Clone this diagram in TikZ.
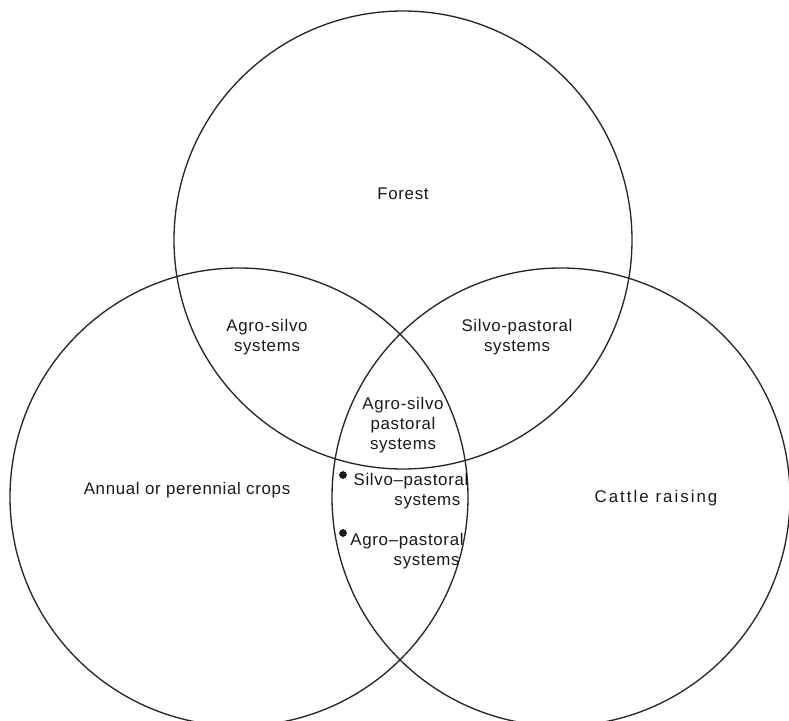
\documentclass[tikz,border=0pt]{standalone}
\usepackage{fontspec}
\setmainfont{Liberation Sans}[LetterSpace=4]
\begin{document}
\begin{tikzpicture}[x=0.025cm, y=-0.025cm,
        ring/.style={draw=black!85, line width=0.95pt},
        lbl/.style={font=\fontsize{12}{14.2}\selectfont, text=black!90, align=center, inner sep=0pt},
        dot/.style={circle, fill=black!90, inner sep=0pt, minimum size=5.5pt}]
    \useasboundingbox (0,0) rectangle (789,721);
    \clip (0,0) rectangle (789,721);
    % three land uses
    \draw[ring] (403,240) circle[radius=229];
    \draw[ring] (239,497) circle[radius=229];
    \draw[ring] (561,497) circle[radius=229];
    \node[lbl] (forest) at (403,194) {Forest};
    \node[lbl] (crops) at (187,490) {Annual or perennial crops};
    \node[lbl, font=\fontsize{12}{14.2}\selectfont\addfontfeatures{LetterSpace=12}] (cattle) at (656,498) {Cattle raising};
    % overlaps
    \node[lbl] (agrosilvo) at (267,337) {Agro-silvo\\systems};
    \node[lbl] (silvopast) at (517,337) {Silvo-pastoral\\systems};
    \node[lbl] (agrosilvopast) at (403,425) {Agro-silvo\\pastoral\\systems};
    \node[lbl, align=right] (silvopastb) at (411,491) {Silvo--pastoral\\systems\hspace*{0.2cm}};
    \node[lbl, align=right] (agropast) at (407,551) {Agro--pastoral\\systems\hspace*{0.1cm}};
    \node[dot] (dotsilvo) at (343,475) {};
    \node[dot] (dotagro) at (343,533) {};
\end{tikzpicture}
\end{document}
